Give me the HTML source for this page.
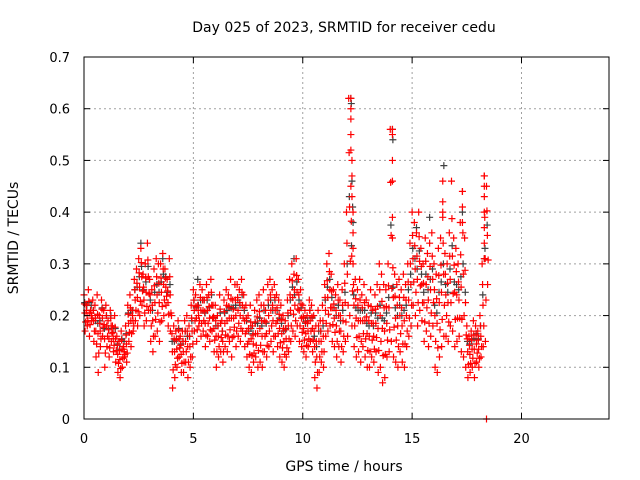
<!DOCTYPE html>
<html><head><meta charset="utf-8"><style>
body{margin:0;background:#fff}
svg{display:block;font-family:"DejaVu Sans","Liberation Sans",sans-serif}
</style></head><body>
<svg id="chart" width="640" height="480" viewBox="0 0 640 480">
<rect width="640" height="480" fill="#fff"/>
<g id="grid"></g>
<g id="gray"></g>
<g id="red"></g>
<rect x="84" y="57" width="525" height="362" fill="none" stroke="#000" stroke-width="1"/>
<g id="axes"></g>
<text x="344" y="32" font-size="14" text-anchor="middle">Day 025 of 2023, SRMTID for receiver cedu</text>
<text x="344" y="471" font-size="14" text-anchor="middle">GPS time / hours</text>
<text x="18" y="238" font-size="14" text-anchor="middle" transform="rotate(-90 18 238)">SRMTID / TECUs</text>
</svg>
<script>
const xTicks=[0,5,10,15,20];
const yTicks=[0,0.1,0.2,0.3,0.4,0.5,0.6,0.7];
const yTickLabels=["0","0.1","0.2","0.3","0.4","0.5","0.6","0.7"];
const tStart=0, tStep=0.1;
const redHi=[.24,.22,.25,.21,.23,.22,.24,.20,.23,.21,.22,.19,.21,.18,.20,.16,.15,.17,.14,.18,.22,.24,.21,.27,.29,.31,.33,.28,.30,.34,.27,.25,.29,.31,.30,.30,.32,.29,.27,.31,.20,.18,.17,.19,.16,.17,.19,.20,.18,.22,.25,.24,.22,.26,.25,.23,.26,.24,.27,.22,.22,.20,.24,.19,.23,.25,.24,.27,.23,.26,.26,.25,.27,.24,.22,.20,.22,.18,.21,.23,.24,.22,.25,.21,.26,.27,.25,.26,.24,.23,.22,.20,.19,.23,.27,.30,.28,.31,.27,.25,.22,.21,.20,.23,.22,.20,.18,.21,.19,.22,.26,.30,.32,.28,.25,.24,.26,.23,.25,.30,.40,.62,.45,.30,.27,.25,.27,.24,.26,.23,.22,.25,.21,.24,.26,.30,.28,.26,.25,.30,.56,.35,.28,.26,.27,.25,.28,.26,.30,.34,.40,.38,.36,.40,.33,.30,.35,.32,.34,.36,.30,.28,.33,.35,.40,.32,.30,.36,.46,.35,.33,.30,.38,.44,.35,.18,.16,.17,.19,.18,.17,.20,.30,.47,.45];
const redLo=[.17,.18,.16,.19,.15,.12,.09,.14,.16,.10,.14,.12,.15,.13,.11,.09,.08,.10,.12,.11,.15,.14,.17,.19,.18,.20,.22,.18,.19,.21,.15,.13,.16,.17,.15,.19,.20,.22,.18,.17,.06,.08,.10,.12,.09,.09,.11,.08,.10,.12,.17,.15,.18,.16,.17,.14,.16,.15,.17,.13,.10,.12,.13,.11,.14,.13,.15,.12,.16,.14,.16,.15,.17,.14,.12,.10,.09,.11,.12,.10,.11,.10,.13,.12,.14,.15,.13,.16,.14,.12,.11,.10,.12,.13,.15,.17,.16,.18,.15,.14,.13,.12,.14,.15,.13,.08,.06,.09,.11,.10,.16,.17,.18,.15,.14,.12,.14,.11,.13,.15,.16,.20,.18,.14,.12,.13,.11,.14,.12,.10,.10,.12,.11,.13,.09,.10,.07,.08,.12,.13,.15,.12,.11,.10,.13,.11,.10,.14,.16,.18,.22,.20,.18,.21,.19,.15,.17,.14,.16,.18,.10,.09,.12,.14,.16,.16,.15,.18,.17,.14,.15,.16,.13,.12,.10,.08,.09,.10,.08,.11,.10,.12,.14,.15,.26];
const spikeT=[12.2,12.2,12.2,12.2,12.2,12.25,12.25,12.25,12.3,12.3,12.3,14.1,14.1,14.1,14.1,14.1,16.4,16.4,16.4,17.3,17.3,17.3,18.3,18.3,18.3,18.3,18.3,18.3,18.3,18.4];
const spikeV=[.62,.60,.58,.55,.52,.50,.47,.43,.40,.36,.33,.56,.55,.50,.46,.39,.46,.42,.39,.44,.41,.38,.47,.45,.43,.40,.37,.34,.31,0];
const grayT=[12.2,12.22,12.25,12.28,12.3,14.1,14.12,16.45,17.3,18.3,2.6,3.6,5.2,9.6,15.2,15.8];
const grayV=[.62,.61,.46,.41,.38,.56,.54,.49,.40,.31,.34,.31,.27,.31,.37,.39];

const X0=84,X1=609,Y0=419,Y1=57;
const xs=t=>X0+(t/24)*(X1-X0);
const ys=v=>Y0-(v/0.7)*(Y0-Y1);
const NS="http://www.w3.org/2000/svg";
function mk(tag,attrs,parent){const e=document.createElementNS(NS,tag);for(const k in attrs)e.setAttribute(k,attrs[k]);parent.appendChild(e);return e;}
const grid=document.getElementById('grid'),axes=document.getElementById('axes');
xTicks.forEach(t=>{
  const x=xs(t);
  if(t>0){const g=mk('line',{x1:x,x2:x,y1:Y1,y2:Y0,stroke:'#a0a0a0','stroke-dasharray':'2,3'},grid);
  
  }
  const a=mk('line',{x1:x,x2:x,y1:Y0,y2:Y0-6,stroke:'#000'},axes);
  
  
  const b=mk('line',{x1:x,x2:x,y1:Y1,y2:Y1+6,stroke:'#000'},axes);
  
  
  const l=mk('text',{x:x,y:443,'font-size':13,'text-anchor':'middle'},axes);l.textContent=t;
  
  
});
yTicks.forEach((v,i)=>{
  const y=ys(v);
  if(v>0&&v<0.7){const g=mk('line',{x1:X0,x2:X1,y1:y,y2:y,stroke:'#a0a0a0','stroke-dasharray':'2,3'},grid);
  
  }
  const a=mk('line',{x1:X0,x2:X0+6,y1:y,y2:y,stroke:'#000'},axes);
  
  
  const b=mk('line',{x1:X1,x2:X1-6,y1:y,y2:y,stroke:'#000'},axes);
  
  
  const l=mk('text',{x:X0-14,y:y+5,'font-size':13,'text-anchor':'end'},axes);l.textContent=yTickLabels[i];
  
  
});
function cross(g,t,v,col,name){
  const x=xs(t),y=ys(v);
  const p=mk('path',{d:`M${x-3.5},${y}h7M${x},${y-3.5}v7`,stroke:col,'stroke-width':1.2,fill:'none'},g);
  
  
}
const gg=document.getElementById('gray'),rg=document.getElementById('red');
grayT.forEach((t,i)=>cross(gg,t,grayV[i],'#404040','black-point'));
redHi.forEach((v,i)=>{const t=tStart+i*tStep;
  cross(gg,t+0.03,(v+redLo[i])/2+0.02,'#404040','black-point');
  cross(rg,t,v,'#ff0000','red-point');
  cross(rg,t+0.05,redLo[i],'#ff0000','red-point');
  cross(rg,t+0.02,(v*3+redLo[i])/4,'#ff0000','red-point');
  cross(rg,t+0.04,(v+redLo[i])/2,'#ff0000','red-point');
  cross(rg,t+0.075,(v+redLo[i]*3)/4,'#ff0000','red-point');
});
spikeT.forEach((t,i)=>cross(rg,t,spikeV[i],'#ff0000','red-spike-point'));
</script>
</body></html>
